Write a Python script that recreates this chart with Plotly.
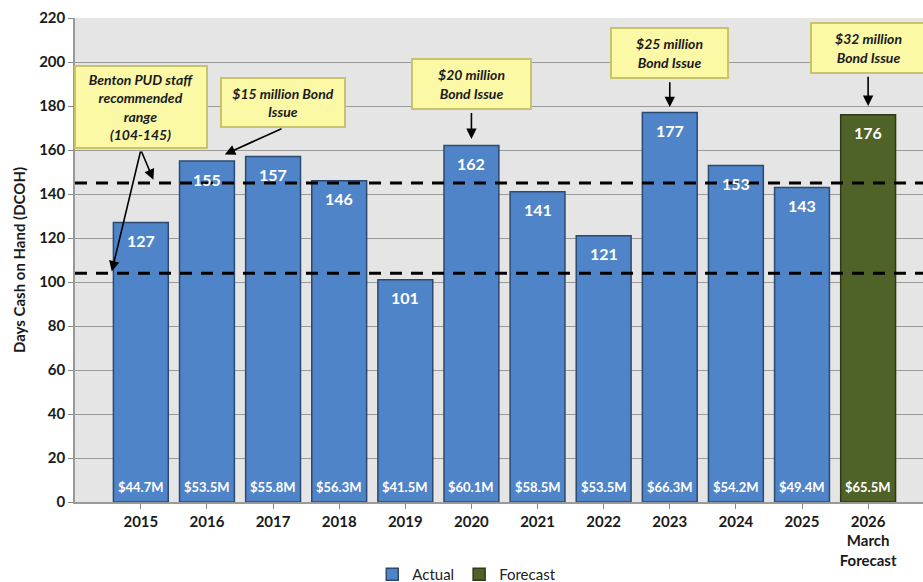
import plotly.graph_objects as go

# Days cash on hand by year
years = ["2015", "2016", "2017", "2018", "2019", "2020", "2021", "2022",
         "2023", "2024", "2025", "2026<br>March<br>Forecast"]
dcoh = [127, 155, 157, 146, 101, 162, 141, 121, 177, 153, 143, 176]
cash = ["$44.7M", "$53.5M", "$55.8M", "$56.3M", "$41.5M", "$60.1M",
        "$58.5M", "$53.5M", "$66.3M", "$54.2M", "$49.4M", "$65.5M"]
is_forecast = [False] * 11 + [True]

range_low, range_high = 104, 145

BLUE = "#5084c8"
BLUE_EDGE = "#2b4a72"
GREEN = "#4f6228"
GREEN_EDGE = "#2e3a15"
FONT = "Lato"

idx = list(range(len(years)))
act_x = [i for i in idx if not is_forecast[i]]
fc_x = [i for i in idx if is_forecast[i]]

fig = go.Figure()
fig.add_trace(go.Bar(
    x=act_x, y=[dcoh[i] for i in act_x], name="Actual", width=0.83,
    marker=dict(color=BLUE, line=dict(color=BLUE_EDGE, width=1.5)),
    hoverinfo="skip"))
fig.add_trace(go.Bar(
    x=fc_x, y=[dcoh[i] for i in fc_x], name="Forecast", width=0.83,
    marker=dict(color=GREEN, line=dict(color=GREEN_EDGE, width=1.5)),
    hoverinfo="skip"))

# recommended range lines
for lvl in (range_low, range_high):
    fig.add_hline(y=lvl, line=dict(color="black", width=3, dash="12px,9px"))

annotations = []
for i in idx:
    annotations.append(dict(
        x=i, y=dcoh[i], text=f"<b>{dcoh[i]}</b>", showarrow=False,
        yanchor="middle", yshift=-18,
        font=dict(family=FONT, size=16, color="white")))
    annotations.append(dict(
        x=i, y=0, text=cash[i], showarrow=False, yanchor="bottom", yshift=5,
        font=dict(family=FONT, size=13, color="white", weight="bold")))

# callout boxes: (text, box x, box y, box w, box h, arrows[(tail, head)])
callouts = [
    ("Benton PUD staff<br>recommended<br>range<br>(104-145)", 0.0, 179.5, 124, 74,
     [((0.0, 160), (0.19, 146.5)), ((0.0, 160), (-0.44, 104.8))]),
    ("$15 million Bond<br>Issue", 2.15, 181.6, 116, 41,
     [((2.15, 170), (1.27, 158))]),
    ("$20 million<br>Bond Issue", 5.0, 190, 111, 42,
     [((5.0, 177.5), (5.0, 165))]),
    ("$25 million<br>Bond Issue", 8.0, 204, 109, 42,
     [((8.0, 191.5), (8.0, 179.5))]),
    ("$32 million<br>Bond Issue", 11.0, 206.4, 107, 42,
     [((11.0, 194), (11.0, 180))]),
]
callout_font = dict(family=FONT, size=14, color="#1a1a1a", weight="bold", style="italic")
for text, bx, by, bw, bh, arrows in callouts:
    for (tx, ty), (hx, hy) in arrows:
        annotations.append(dict(
            x=hx, y=hy, ax=tx, ay=ty, xref="x", yref="y", axref="x", ayref="y",
            text="", showarrow=True, arrowhead=2, arrowsize=1.3, arrowwidth=1.6,
            arrowcolor="black"))
    annotations.append(dict(
        x=bx, y=by, text=text, showarrow=False, width=bw, height=bh,
        align="center", valign="middle", bgcolor="#fbf8a6",
        bordercolor="#c9c46a", borderwidth=2, borderpad=3, font=callout_font))

fig.update_layout(
    width=923, height=582,
    margin=dict(l=75, r=0, t=18, b=80, autoexpand=False),
    plot_bgcolor="#e5e5e5", paper_bgcolor="white",
    bargap=0.17,
    font=dict(family=FONT, color="#1a1a1a"),
    annotations=annotations,
    showlegend=True,
    legend=dict(orientation="h", x=0.462, xanchor="center", y=-0.15,
                yanchor="middle", font=dict(family=FONT, size=15, color="#222"),
                itemwidth=30, traceorder="normal"),
    xaxis=dict(
        range=[-0.996, 11.83], tickmode="array", tickvals=idx,
        ticktext=[f"<b>{y}</b>" for y in years],
        tickfont=dict(family=FONT, size=15, color="#1a1a1a"),
        ticks="outside", ticklen=5, tickcolor="#888",
        showline=True, linecolor="#999", linewidth=1.5, automargin=False,
        showgrid=False, zeroline=False, fixedrange=True),
    yaxis=dict(
        range=[0, 220], dtick=20, tick0=0,
        tickfont=dict(family=FONT, size=15, color="#1a1a1a", weight="bold"),
        ticks="outside", ticklen=5, tickcolor="#888",
        showline=True, linecolor="#999", linewidth=1.5, automargin=False,
        gridcolor="#9a9a9a", gridwidth=1.2, zeroline=False,
        title=dict(text="<b>Days Cash on Hand (DCOH)</b>",
                   font=dict(family=FONT, size=15, color="#1a1a1a"), standoff=10),
        fixedrange=True),
)

fig.write_html("out.html", config={"displayModeBar": False})
